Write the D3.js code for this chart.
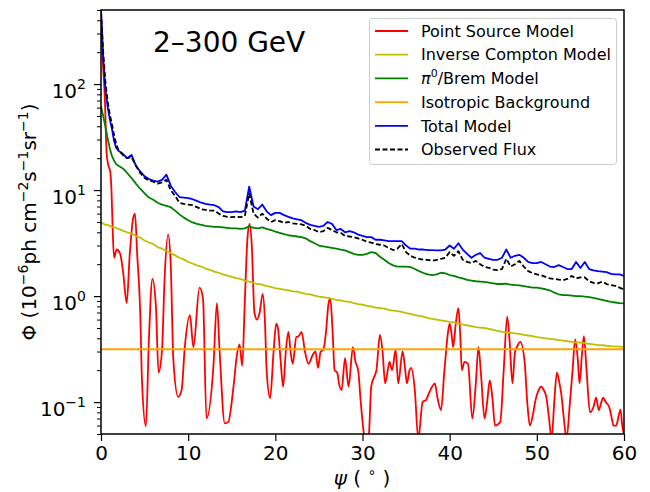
<!DOCTYPE html>
<html>
<head>
<meta charset="utf-8">
<script src="https://cdn.jsdelivr.net/npm/d3@7"></script>
<style>
  body { margin: 0; background: #fff; }
  svg { display: block; font-family: "DejaVu Sans", sans-serif; }
</style>
</head>
<body>
<svg id="chart" width="650" height="492"></svg>
<script>
// Angular grid (degrees) shared by the diffuse components
const psi = [0,0.25,0.5,0.75,1,1.25,1.5,1.75,2,
  2.5,3,3.5,4,4.5,5,5.5,6,6.5,7,
  7.5,8,8.5,9,9.5,10,10.5,11,11.5,12,
  12.5,13,13.5,14,14.5,15,15.5,16,16.5,17,
  17.5,18,18.5,19,19.5,20,20.5,21,21.5,22,
  22.5,23,23.5,24,24.5,25,25.5,26,26.5,27,
  27.5,28,28.5,29,29.5,30,30.5,31,31.5,32,
  32.5,33,33.5,34,34.5,35,35.5,36,36.5,37,
  37.5,38,38.5,39,39.5,40,40.5,41,41.5,42,
  42.5,43,43.5,44,44.5,45,45.5,46,46.5,47,
  47.5,48,48.5,49,49.5,50,50.5,51,51.5,52,
  52.5,53,53.5,54,54.5,55,55.5,56,56.5,57,
  57.5,58,58.5,59,59.5,60];

const totalModel = [520,180,90,62,47,38,29,25,23.5,
  22,20,21.5,17,15,13.5,12.7,12.3,12,12.5,
  14,11,9.6,8.6,8.5,8.4,8.2,7.9,7.6,7.4,
  7.3,7.2,6.9,6.3,6.2,6.2,6.3,6.2,6.4,10.8,
  7.0,6.6,7.3,6.3,5.8,6.1,6.1,5.8,5.6,5.4,
  5.3,5.2,4.9,4.7,4.6,4.5,4.6,5.0,4.8,4.2,
  4.3,4.0,4.1,4.0,3.8,3.7,3.6,3.6,3.4,3.4,
  3.35,3.3,3.3,3.3,3.3,3.0,2.8,2.8,2.75,2.75,
  2.72,2.72,2.7,2.7,2.75,3.0,2.8,3.15,2.75,2.5,
  2.3,2.45,2.55,2.3,2.25,2.2,2.2,2.3,2.75,2.3,
  2.4,2.45,2.3,2.1,2.05,2.05,2.1,2.0,1.9,1.88,
  1.96,1.88,1.8,1.8,2.1,1.84,2.1,1.8,1.75,1.72,
  1.7,1.68,1.62,1.6,1.6,1.55];

const observedFlux = [480,200,105,70,52,42,33,27,24,
  21.5,20,20.5,17,14.5,13,12.3,12,11.5,11.8,
  12.5,10,8.8,7.6,7.4,7.3,7.2,6.9,6.6,6.5,
  6.4,6.4,6.0,5.7,5.6,5.55,5.6,5.55,5.7,9.3,
  6.0,5.5,6.0,5.4,5.0,5.2,5.1,4.9,5.0,4.85,
  4.8,4.75,4.6,4.3,4.2,4.0,4.1,4.4,4.2,4.0,
  3.95,3.7,3.65,3.6,3.5,3.4,3.25,3.2,3.1,3.05,
  3.0,2.85,2.72,2.8,3.1,2.6,2.4,2.3,2.25,2.2,
  2.2,2.15,2.2,2.25,2.3,2.6,2.4,2.65,2.2,2.1,
  2.05,2.15,2.0,1.88,1.85,1.78,1.76,1.8,2.25,1.9,
  2.0,2.15,1.9,1.72,1.65,1.6,1.57,1.52,1.47,1.45,
  1.43,1.41,1.45,1.55,1.47,1.5,1.5,1.38,1.33,1.32,
  1.37,1.3,1.27,1.25,1.2,1.15];

const pionBrem = [62,50,40,31,25,21,19,17.5,17,
  16,14.5,13,11.5,10.3,9.3,8.5,8.1,7.6,7.3,
  7.1,6.9,6.4,5.9,5.5,5.2,4.95,4.8,4.7,4.6,
  4.55,4.5,4.5,4.45,4.4,4.35,4.35,4.3,4.35,4.55,
  4.4,4.35,4.45,4.3,4.2,4.05,3.95,3.85,3.75,3.7,
  3.65,3.6,3.5,3.3,3.15,3.0,2.95,2.9,2.85,2.8,
  2.75,2.7,2.6,2.5,2.45,2.45,2.5,2.6,2.55,2.35,
  2.2,2.05,1.95,1.9,1.9,1.9,1.88,1.8,1.72,1.65,
  1.6,1.58,1.6,1.66,1.64,1.58,1.55,1.5,1.47,1.42,
  1.4,1.38,1.37,1.36,1.34,1.32,1.3,1.3,1.31,1.28,
  1.27,1.26,1.24,1.22,1.2,1.2,1.18,1.16,1.13,1.08,
  1.04,1.02,1.02,1.01,1.0,1.0,0.99,0.98,0.96,0.94,
  0.92,0.9,0.88,0.87,0.86,0.855];

const inverseCompton = [4.9,4.85,4.7,4.7,4.6,4.5,4.45,4.4,4.3,
  4.15,4.0,3.9,3.7,3.55,3.35,3.2,3.1,2.9,2.8,
  2.68,2.55,2.42,2.3,2.22,2.1,2.03,1.95,1.9,1.82,
  1.77,1.7,1.66,1.6,1.56,1.52,1.48,1.45,1.4,1.37,
  1.33,1.3,1.28,1.24,1.22,1.19,1.17,1.15,1.13,1.11,
  1.1,1.07,1.05,1.04,1.01,0.99,0.98,0.96,0.94,0.92,
  0.91,0.89,0.88,0.86,0.84,0.83,0.81,0.8,0.78,0.77,
  0.76,0.74,0.73,0.72,0.71,0.69,0.68,0.66,0.65,0.64,
  0.62,0.61,0.6,0.59,0.58,0.57,0.565,0.55,0.54,0.53,
  0.52,0.51,0.505,0.5,0.49,0.48,0.47,0.46,0.455,0.45,
  0.445,0.44,0.43,0.425,0.42,0.41,0.405,0.4,0.395,0.39,
  0.385,0.38,0.375,0.37,0.365,0.365,0.36,0.355,0.35,0.345,
  0.345,0.34,0.337,0.335,0.333,0.33];

// Isotropic background is flat across the whole range
const psiIso = [0, 60];
const isotropic = [0.315, 0.315];

// Point-source component, sampled on its own angular grid
const psiPS = [0,0.2,0.45,0.65,0.85,1.05,1.2,1.35,1.5,1.8,
  2.2,2.55,2.95,3.3,3.7,3.9,4.15,4.5,4.7,5.15,
  5.5,5.9,6.3,6.6,7.0,7.3,7.7,8.0,8.3,8.85,
  9.25,9.6,10.2,10.6,11.3,11.7,12.1,12.9,13.3,13.6,
  14.2,14.6,15.2,15.6,15.9,16.2,16.5,16.8,17.05,17.3,
  17.6,17.9,18.2,18.55,18.8,19.0,19.4,19.8,20.1,20.3,
  20.6,20.9,21.2,21.5,21.75,22.0,22.4,22.7,23.0,23.4,
  23.8,24.3,24.6,24.9,25.2,25.5,25.8,26.1,26.3,26.55,
  26.8,27.1,27.3,27.6,28.0,28.4,28.9,29.2,29.5,29.8,
  30.1,30.4,30.7,31.0,31.3,31.6,32.0,32.3,32.6,32.9,
  33.1,33.4,33.8,34.1,34.6,34.85,35.1,35.4,35.6,36.0,
  36.4,36.9,37.3,37.6,38.0,38.3,38.6,39.0,39.4,39.8,
  40.0,40.2,40.4,40.7,41.0,41.2,41.4,41.7,42.1,42.6,
  43.0,43.3,43.6,44.0,44.3,44.6,44.9,45.2,45.8,46.2,
  46.6,46.9,47.2,47.5,47.7,48.1,48.6,48.9,49.2,49.6,
  49.8,50.2,50.5,50.8,51.1,51.4,51.7,52.0,52.3,52.6,
  52.8,53.1,53.4,53.8,54.1,54.4,54.7,54.9,55.2,55.4,
  55.7,56.1,56.5,56.8,57.1,57.4,57.6,57.9,58.3,58.6,
  58.8,59.1,59.4,59.6,59.8,60];
const pointSource = [420,170,70,22,17,15,10,4,2.3,2.75,
  2.5,1.65,0.86,2.5,5.5,6.0,2.5,0.7,0.16,0.059,
  0.4,1.45,0.8,0.19,0.31,1.5,3.8,2.0,0.25,0.112,
  0.13,0.32,0.66,0.33,1.2,0.95,0.07,0.22,0.86,0.31,
  0.063,0.065,0.14,0.28,0.35,0.22,0.9,3.5,4.8,3.0,
  0.7,0.6,0.7,1.05,0.6,0.2,0.109,0.3,0.55,0.5,
  0.25,0.14,0.3,0.46,0.3,0.23,0.41,0.42,0.46,0.3,
  0.23,0.28,0.3,0.21,0.3,0.31,0.45,0.85,0.95,0.5,
  0.2,0.19,0.15,0.13,0.26,0.14,0.33,0.24,0.2,0.1,
  0.055,0.04,0.045,0.14,0.17,0.2,0.43,0.3,0.15,0.2,
  0.24,0.2,0.31,0.15,0.3,0.22,0.15,0.2,0.21,0.13,
  0.045,0.1,0.105,0.12,0.14,0.15,0.11,0.084,0.2,0.45,
  0.55,0.45,0.33,0.55,0.77,0.45,0.2,0.24,0.23,0.07,
  0.15,0.33,0.18,0.07,0.1,0.16,0.11,0.06,0.065,0.2,
  0.64,0.35,0.15,0.3,0.33,0.37,0.24,0.1,0.06,0.08,
  0.1,0.13,0.14,0.13,0.11,0.07,0.045,0.1,0.19,0.15,
  0.12,0.07,0.045,0.1,0.2,0.39,0.25,0.15,0.3,0.42,
  0.2,0.08,0.09,0.11,0.084,0.1,0.11,0.1,0.09,0.07,
  0.06,0.06,0.075,0.085,0.06,0.05];

const xTicks = [0, 10, 20, 30, 40, 50, 60];
const yMajorTicks = [0.1, 1, 10, 100];
const yExponents = ["\u22121", "0", "1", "2"];

const seriesStyles = [
  { label: "Point Source Model", color: "#ff0000", dash: null, smooth: true },
  { label: "Inverse Compton Model", color: "#bfbf00", dash: null },
  { label: "pi0", color: "#008000", dash: null },
  { label: "Isotropic Background", color: "#ffa500", dash: null },
  { label: "Total Model", color: "#0000ff", dash: null },
  { label: "Observed Flux", color: "#000000", dash: "5,2.5" }
];
const lineWidth = 1.8;

const svg = d3.select("#chart");
const plot = { left: 101, right: 624, top: 10, bottom: 434 };

const x = d3.scaleLinear().domain([0, 60]).range([plot.left, plot.right]);
const y = d3.scaleLog().domain([0.05, 500]).range([plot.bottom, plot.top]);

svg.append("defs").append("clipPath").attr("id", "plotClip")
  .append("rect")
  .attr("x", plot.left).attr("y", plot.top)
  .attr("width", plot.right - plot.left).attr("height", plot.bottom - plot.top);

const lineGen = (xs, smooth) => d3.line()
  .x((d, i) => x(xs[i]))
  .y(d => y(d))
  .curve(smooth ? d3.curveMonotoneX : d3.curveLinear);

const curves = [
  [psiPS, pointSource],
  [psi, inverseCompton],
  [psi, pionBrem],
  [psiIso, isotropic],
  [psi, totalModel],
  [psi, observedFlux]
];

const g = svg.append("g").attr("clip-path", "url(#plotClip)");
curves.forEach(([xs, vals], k) => {
  const st = seriesStyles[k];
  g.append("path")
    .attr("d", lineGen(xs, st.smooth)(vals))
    .attr("fill", "none")
    .attr("stroke", st.color)
    .attr("stroke-width", lineWidth)
    .attr("stroke-linejoin", "round")
    .attr("stroke-dasharray", st.dash);
});

// Axes
const tickFont = 20;
const xAxis = svg.append("g")
  .attr("transform", `translate(0,${plot.bottom})`)
  .call(d3.axisBottom(x).tickValues(xTicks).tickSize(7).tickPadding(5).tickFormat(d3.format("d")));
xAxis.select(".domain").remove();
xAxis.selectAll("line").attr("stroke", "#000").attr("stroke-width", 1.2);
xAxis.selectAll("text").attr("font-size", tickFont).attr("fill", "#000")
  .attr("font-family", "DejaVu Sans");

// minor y ticks
const yMinor = [];
[0.01, 0.1, 1, 10, 100].forEach(dec => {
  for (let k = 2; k <= 9; k++) {
    const v = dec * k;
    if (v >= 0.05 && v <= 500) yMinor.push(v);
  }
});
const yAxisMinor = svg.append("g")
  .attr("transform", `translate(${plot.left},0)`)
  .call(d3.axisLeft(y).tickValues(yMinor).tickSize(4).tickFormat(""));
yAxisMinor.select(".domain").remove();
yAxisMinor.selectAll("line").attr("stroke", "#000").attr("stroke-width", 1);

const yAxis = svg.append("g")
  .attr("transform", `translate(${plot.left},0)`)
  .call(d3.axisLeft(y).tickValues(yMajorTicks).tickSize(7).tickPadding(8).tickFormat(""));
yAxis.select(".domain").remove();
yAxis.selectAll("line").attr("stroke", "#000").attr("stroke-width", 1.2);
yAxis.selectAll(".tick").each(function (d, i) {
  const t = d3.select(this).select("text")
    .attr("font-size", tickFont).attr("fill", "#000")
    .attr("font-family", "DejaVu Sans")
    .attr("dy", "0.66em");
  t.text("10");
  t.append("tspan").attr("dy", -9).attr("font-size", 14).text(yExponents[i]);
});

// Frame
svg.append("rect")
  .attr("x", plot.left).attr("y", plot.top)
  .attr("width", plot.right - plot.left).attr("height", plot.bottom - plot.top)
  .attr("fill", "none").attr("stroke", "#000").attr("stroke-width", 1.5);

// Title inside the axes
svg.append("text")
  .attr("x", 153).attr("y", 52)
  .attr("font-size", 28).attr("fill", "#000")
  .text("2\u2013300 GeV");

// X label
const xl = svg.append("text")
  .attr("x", 362).attr("y", 485)
  .attr("text-anchor", "middle").attr("font-size", 20).attr("fill", "#000");
xl.append("tspan").attr("font-style", "italic").text("\u03c8");
xl.append("tspan").text(" ( ");
xl.append("tspan").attr("dy", -8).attr("font-size", 14).text("\u2218");
xl.append("tspan").attr("dy", 8).text(" )");

// Y label
const yl = svg.append("text")
  .attr("transform", "translate(36,222) rotate(-90)")
  .attr("text-anchor", "middle").attr("font-size", 20).attr("fill", "#000");
const sup = (sel, s) => sel.append("tspan").attr("dy", -8).attr("font-size", 14).text(s);
const base = (sel, s) => sel.append("tspan").attr("dy", 8).text(s);
yl.append("tspan").text("\u03a6 (10");
sup(yl, "\u22126");
base(yl, "ph cm");
sup(yl, "\u22122");
base(yl, "s");
sup(yl, "\u22121");
base(yl, "sr");
sup(yl, "\u22121");
base(yl, ")");

// Legend
const lg = svg.append("g");
lg.append("rect")
  .attr("x", 369.5).attr("y", 18.5).attr("width", 247).attr("height", 146)
  .attr("rx", 3).attr("fill", "#fff").attr("fill-opacity", 0.8)
  .attr("stroke", "#cccccc").attr("stroke-width", 1);
seriesStyles.forEach((st, i) => {
  const yy = 31 + i * 23.7;
  lg.append("line")
    .attr("x1", 375).attr("x2", 408).attr("y1", yy).attr("y2", yy)
    .attr("stroke", st.color).attr("stroke-width", lineWidth)
    .attr("stroke-dasharray", st.dash);
  const t = lg.append("text")
    .attr("x", 421).attr("y", yy).attr("dy", "0.36em")
    .attr("font-size", 16).attr("fill", "#000");
  if (st.label === "pi0") {
    t.append("tspan").attr("font-style", "italic").text("\u03c0");
    t.append("tspan").attr("dy", -7).attr("font-size", 11).text("0");
    t.append("tspan").attr("dy", 7).text("/Brem Model");
  } else {
    t.text(st.label);
  }
});
</script>
</body>
</html>
